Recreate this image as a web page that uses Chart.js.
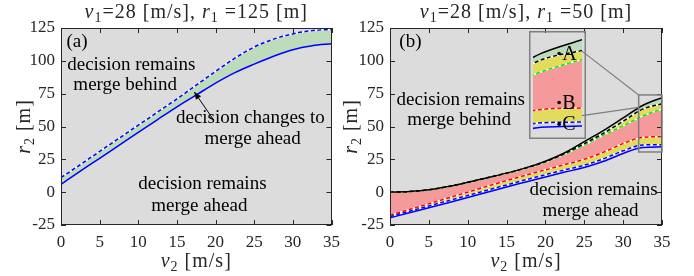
<!DOCTYPE html>
<html><head><meta charset="utf-8">
<script src="https://cdn.jsdelivr.net/npm/chart.js@4"></script>
<style>
html,body{margin:0;padding:0;background:#fff;width:694px;height:276px;overflow:hidden}
#wrap{position:relative;width:694px;height:276px}
canvas{position:absolute;top:0}
#cA{left:0;width:347px;height:276px}
#cB{left:340px;width:354px;height:276px}
#cI{left:529px;top:31px;width:57px;height:108px}
</style></head><body>
<div id="wrap">
<canvas id="cA" width="347" height="276"></canvas>
<canvas id="cB" width="354" height="276"></canvas>
<canvas id="cI" width="57" height="108"></canvas>
</div>
<script>
// ---------- data ----------
const v2 = [0, 2.5, 5, 7.5, 10, 12.5, 15, 17.5, 20, 22.5, 25, 27.5, 30, 32.5, 35];
// panel (a)
const aSolid  = [6, 16, 25.8, 35.7, 45.5, 55.3, 65, 74, 83, 91, 97.5, 103.5, 108.5, 111.5, 113];
const aDashed = [11, 21, 31, 41, 51, 61, 71, 81.5, 92, 102, 110.5, 116.5, 120.5, 123, 124];
// panel (b)
const bBlackSolid  = [0, 0.5, 1.8, 4.3, 7.5, 11, 14.5, 18.5, 23.5, 30, 38.5, 47, 56.5, 66, 72];
const bBlackDashed = [0, 0.5, 1.8, 4.3, 7.5, 11, 14.5, 18.5, 23.3, 29.5, 37, 45, 54, 63.2, 67.3];
const bGreenDashed = [0, 0.5, 1.8, 4.2, 7.3, 10.8, 14.3, 18.2, 23, 29, 36, 43.5, 50.5, 58, 63.4];
const bRedDashed   = [-17.5, -13.2, -8.8, -4.4, 0, 4.5, 8.8, 13, 17, 21, 25, 30.5, 37, 41.7, 42.3];
const bBlueDashed  = [-18.5, -14.5, -10.5, -6.5, -2.5, 1.5, 5.5, 9.5, 13.3, 17, 20.5, 25.5, 31.5, 35.9, 36.2];
const bBlueSolid   = [-19.5, -15.7, -11.8, -8, -4, 0, 4, 7.8, 11.6, 15.3, 18.8, 23.5, 29.5, 34, 34.5];
// inset points
const pointNames = ['A', 'B', 'C'];
const pointV = [33.6, 33.6, 33.6];
const pointR = [66, 44.7, 35.3];
// ticks
const xTicks = [0, 5, 10, 15, 20, 25, 30, 35];
const yTicks = [-25, 0, 25, 50, 75, 100, 125];
// inset window
const insetX = [32, 35];
const insetY = [30.6, 74];

// ---------- helpers ----------
const FAM = '"Liberation Serif", "Times New Roman", serif';
const BG = '#dcdcdc';
const GREEN_F = '#bcdcbc', YELLOW_F = '#e3db5c', PINK_F = '#f59a9a', LBLUE_F = '#d2d8e4';
const pts = arr => v2.map((x, i) => ({x, y: arr[i]}));
function ds(arr, color, dashed, fillTarget, fillColor, width) {
  return {data: pts(arr), borderColor: color, borderWidth: width || 1.5,
    borderDash: dashed ? [4, 2.5] : [], pointRadius: 0, pointHoverRadius: 0,
    fill: fillTarget == null ? false : {target: fillTarget},
    backgroundColor: fillColor || 'rgba(0,0,0,0)', cubicInterpolationMode: 'monotone'};
}
function under(arr) { return ds(arr, '#ffffff', false, null, null, 1.5); }

function rich(ctx, runs, x, y, size, align, rot, color) {
  const fontOf = st => (st === 'i' ? 'italic ' : '') + (st === 's' ? Math.round(size * 0.7) : size) + 'px ' + FAM;
  ctx.save();
  if ('letterSpacing' in ctx) ctx.letterSpacing = '1px';
  let w = 0;
  runs.forEach(([t, st]) => { ctx.font = fontOf(st); w += ctx.measureText(t).width; });
  ctx.translate(x, y); if (rot) ctx.rotate(rot);
  let cx = align === 'center' ? -w / 2 : 0;
  ctx.textBaseline = 'alphabetic'; ctx.fillStyle = color || '#262626';
  runs.forEach(([t, st]) => { ctx.font = fontOf(st); ctx.fillText(t, cx, st === 's' ? size * 0.22 : 0); cx += ctx.measureText(t).width; });
  ctx.restore();
}
function label(chart, text, vx, vy, size, align) {
  const {ctx, scales: {x, y}} = chart;
  ctx.save(); ctx.font = size + 'px ' + FAM; ctx.fillStyle = '#000';
  ctx.textAlign = align || 'center'; ctx.textBaseline = 'middle';
  ctx.fillText(text, x.getPixelForValue(vx), y.getPixelForValue(vy));
  ctx.restore();
}
function frame(chart) {
  const {ctx, chartArea: a, scales: {x, y}} = chart;
  ctx.save(); ctx.strokeStyle = '#262626'; ctx.lineWidth = 1;
  ctx.beginPath();
  xTicks.forEach(t => { const p = Math.round(x.getPixelForValue(t)) + 0.5;
    ctx.moveTo(p, a.bottom); ctx.lineTo(p, a.bottom - 5); ctx.moveTo(p, a.top); ctx.lineTo(p, a.top + 5); });
  yTicks.forEach(t => { const p = Math.round(y.getPixelForValue(t)) + 0.5;
    ctx.moveTo(a.left, p); ctx.lineTo(a.left + 5, p); ctx.moveTo(a.right, p); ctx.lineTo(a.right - 5, p); });
  ctx.stroke();
  ctx.strokeRect(Math.round(a.left) + 0.5, Math.round(a.top) + 0.5, Math.round(a.right - a.left) - 1, Math.round(a.bottom - a.top) - 1);
  ctx.restore();
}
function titles(chart, r1, yTitleX) {
  const {ctx, chartArea: a} = chart;
  const cx = (a.left + a.right) / 2;
  rich(ctx, [['v', 'i'], ['1', 's'], ['=28 [m/s], ', ''], ['r', 'i'], ['1', 's'], [' =' + r1 + ' [m]', '']], cx, 18, 20, 'center');
  rich(ctx, [['v', 'i'], ['2', 's'], [' [m/s]', '']], cx, 267, 20, 'center');
  rich(ctx, [['r', 'i'], ['2', 's'], [' [m]', '']], yTitleX, (a.top + a.bottom) / 2, 20, 'center', -Math.PI / 2);
}
function scalesCfg(yWidth, xMin, xMax, yMin, yMax, show) {
  const sx = {type: 'linear', min: xMin, max: xMax, display: show,
      grid: {display: false, drawTicks: false}, border: {display: false},
      ticks: {stepSize: 5, padding: 7, color: '#262626', font: {family: FAM, size: 17}, maxRotation: 0, autoSkip: false}};
  const sy = {type: 'linear', min: yMin, max: yMax, display: show,
      grid: {display: false, drawTicks: false}, border: {display: false},
      ticks: {stepSize: 25, padding: 6, color: '#262626', font: {family: FAM, size: 17}, autoSkip: false}};
  if (show) { sx.afterFit = s => { s.height = 51; }; sy.afterFit = s => { s.width = yWidth; }; }
  return {x: sx, y: sy};
}
const basePlugins = {legend: {display: false}, tooltip: {enabled: false}, title: {display: false},
  filler: {drawTime: 'beforeDatasetsDraw', propagate: false}};
const bgPlugin = {id: 'bgfill', beforeDraw(chart) {
  const {ctx, chartArea: a} = chart; ctx.save(); ctx.fillStyle = BG;
  ctx.fillRect(a.left, a.top, a.right - a.left, a.bottom - a.top); ctx.restore(); }};

function bDatasets() {
  return [
    ds(bBlackSolid, '#000000', false),
    ds(bBlackDashed, '#000000', true, 0, GREEN_F),
    ds(bGreenDashed, '#00ee00', true, 1, YELLOW_F),
    ds(bRedDashed, '#ff0000', true, 2, PINK_F),
    ds(bBlueDashed, '#0000ff', true, 3, YELLOW_F),
    ds(bBlueSolid, '#0000ff', false, 4, LBLUE_F),
    under(bBlackDashed), under(bGreenDashed), under(bRedDashed), under(bBlueDashed)
  ];
}

// ---------- panel (a) ----------
new Chart(document.getElementById('cA'), {
  type: 'line',
  data: {datasets: [
    ds(aSolid, '#0000ff', false),
    ds(aDashed, '#0000ff', true, 0, GREEN_F),
    under(aDashed)
  ]},
  options: {responsive: false, animation: false, events: [],
    layout: {padding: {left: 0, right: 14, top: 28, bottom: 0}},
    scales: scalesCfg(61, 0, 35, -25, 125, true),
    plugins: basePlugins},
  plugins: [bgPlugin, {id: 'decoA', afterDraw(chart) {
    const {ctx, scales: {x, y}} = chart;
    frame(chart);
    titles(chart, '125', 30);
    label(chart, '(a)', 0.7, 114.5, 19, 'left');
    label(chart, 'decision remains', 9.1, 96.9, 19);
    label(chart, 'merge behind', 8.3, 81.6, 19);
    label(chart, 'decision changes to', 24.5, 56.1, 19);
    label(chart, 'merge ahead', 24.8, 40.3, 19);
    label(chart, 'decision remains', 18.3, 6.4, 19);
    label(chart, 'merge ahead', 17.9, -10.2, 19);
    // arrow
    const x0 = x.getPixelForValue(19.6), y0 = y.getPixelForValue(56.3);
    const x1 = x.getPixelForValue(17.25), y1 = y.getPixelForValue(76.3);
    const ang = Math.atan2(y1 - y0, x1 - x0);
    ctx.save(); ctx.strokeStyle = '#000'; ctx.fillStyle = '#000'; ctx.lineWidth = 1;
    ctx.beginPath(); ctx.moveTo(x0, y0); ctx.lineTo(x1, y1); ctx.stroke();
    ctx.beginPath(); ctx.moveTo(x1, y1);
    ctx.lineTo(x1 - 8 * Math.cos(ang - 0.4), y1 - 8 * Math.sin(ang - 0.4));
    ctx.lineTo(x1 - 8 * Math.cos(ang + 0.4), y1 - 8 * Math.sin(ang + 0.4));
    ctx.closePath(); ctx.fill(); ctx.restore();
  }}]
});

// ---------- inset ----------
const insetDs = bDatasets();
insetDs.unshift({data: pointV.map((v, i) => ({x: v, y: pointR[i]})), showLine: false,
  pointRadius: 1.8, pointBackgroundColor: '#000', pointBorderWidth: 0, fill: false});
// shift fill targets by one because of the points dataset at index 0
insetDs.forEach((d, i) => { if (i > 0 && d.fill && typeof d.fill === 'object') d.fill = {target: d.fill.target + 1}; });
const insetChart = new Chart(document.getElementById('cI'), {
  type: 'line',
  data: {datasets: insetDs},
  options: {responsive: false, animation: false, events: [],
    layout: {padding: 0},
    scales: scalesCfg(0, insetX[0], insetX[1], insetY[0], insetY[1], false),
    plugins: basePlugins},
  plugins: [bgPlugin, {id: 'decoI', afterDraw(chart) {
    const {ctx} = chart;
    pointNames.forEach((n, i) => {
      ctx.save(); ctx.font = '20px ' + FAM; ctx.fillStyle = '#000'; ctx.textBaseline = 'middle';
      ctx.fillText(n, chart.scales.x.getPixelForValue(pointV[i]) + 3, chart.scales.y.getPixelForValue(pointR[i]) + 1);
      ctx.restore();
    });
    ctx.save(); ctx.strokeStyle = '#7f7f7f'; ctx.lineWidth = 1.5;
    ctx.strokeRect(0.75, 0.75, chart.width - 1.5, chart.height - 1.5); ctx.restore();
  }}]
});

// ---------- panel (b) ----------
const insetOffX = 529 - 340, insetOffY = 31;
new Chart(document.getElementById('cB'), {
  type: 'line',
  data: {datasets: bDatasets()},
  options: {responsive: false, animation: false, events: [],
    layout: {padding: {left: 0, right: 32, top: 28, bottom: 0}},
    scales: scalesCfg(50, 0, 35, -25, 125, true),
    plugins: basePlugins},
  plugins: [bgPlugin, {id: 'decoB', afterDraw(chart) {
    const {ctx, scales: {x, y}} = chart;
    frame(chart);
    titles(chart, '50', 17);
    label(chart, '(b)', 1.2, 114.4, 19, 'left');
    label(chart, 'decision remains', 9.1, 70.1, 19);
    label(chart, 'merge behind', 8.9, 54.8, 19);
    label(chart, 'decision remains', 26.2, 1.3, 19);
    label(chart, 'merge ahead', 25.8, -14, 19);
    // zoom box
    const bx0 = x.getPixelForValue(insetX[0]), bx1 = x.getPixelForValue(insetX[1]);
    const by0 = y.getPixelForValue(insetY[1]), by1 = y.getPixelForValue(insetY[0]);
    ctx.save(); ctx.strokeStyle = '#7f7f7f'; ctx.lineWidth = 1.5;
    ctx.strokeRect(bx0, by0, bx1 - bx0, by1 - by0);
    // connectors from inset to box
    const ix = insetOffX + insetChart.chartArea.right;
    ctx.lineWidth = 1.2;
    ctx.beginPath();
    ctx.moveTo(ix, insetOffY + insetChart.scales.y.getPixelForValue(67));
    ctx.lineTo(bx0, y.getPixelForValue(74));
    ctx.moveTo(ix, insetOffY + insetChart.scales.y.getPixelForValue(39));
    ctx.lineTo(bx0, y.getPixelForValue(64.5));
    ctx.stroke(); ctx.restore();
  }}]
});
</script>
</body></html>
